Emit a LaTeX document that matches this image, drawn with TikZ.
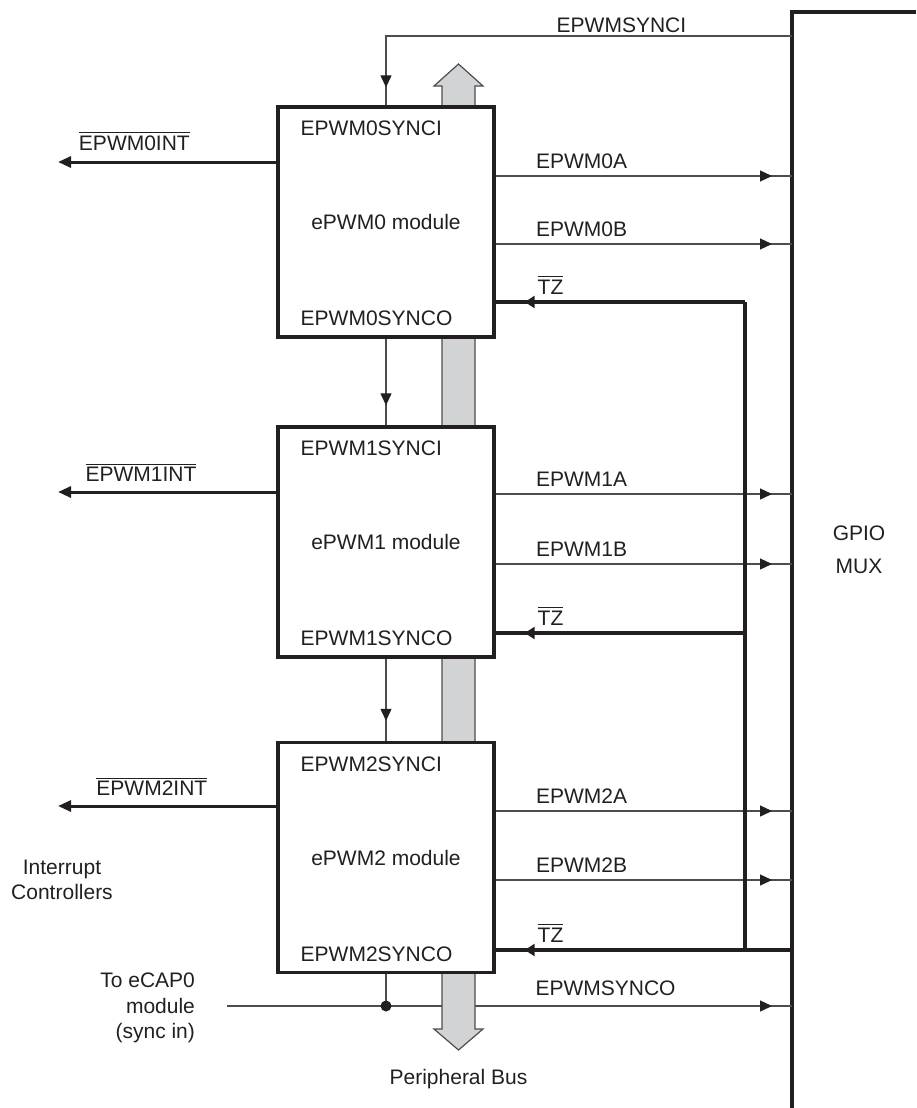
\documentclass[tikz,border=0pt]{standalone}
\usepackage{fontspec}
\setmainfont{Liberation Sans}
\usetikzlibrary{arrows.meta,positioning,calc,decorations.markings}
\definecolor{cLine}{HTML}{231F20}
\definecolor{cThin}{HTML}{4D4D4D}
\definecolor{cBus}{HTML}{D1D3D4}
\newcommand{\ovl}[1]{$\overline{\mbox{#1}}$}
\tikzset{
  font=\fontsize{10.5}{12.6}\selectfont,
  every node/.style={text=cLine},
  modbox/.style={draw=cLine,line width=1.7pt,fill=white,
                 minimum width=108pt,minimum height=115pt,inner sep=0pt},
  port/.style={anchor=west,inner sep=0pt},
  sig/.style={color=cThin,line width=0.65pt},
  heavy/.style={color=cLine,line width=2pt},
  midtip/.style={postaction={decorate},decoration={markings,
                 mark=at position #1 with {\arrow[color=cLine]{Triangle[length=6pt,width=5.5pt]}}}},
  tztip/.style={postaction={decorate},decoration={markings,
                 mark=at position #1 with {\arrow[color=cLine]{Triangle[length=5pt,width=6pt]}}}},
  intarr/.style={color=cLine,line width=1.5pt,-{Triangle[length=6.5pt,width=5.5pt]}},
  busarr/.style={draw=cThin,line width=0.6pt,fill=cBus},
  lbl/.style={inner sep=1pt},
  dot/.style={circle,fill=cLine,inner sep=0pt,minimum size=5.5pt},
}

\begin{document}
\begin{tikzpicture}[x=0.5pt,y=-0.5pt]
\useasboundingbox (0,0) rectangle (916,1108);

% ============ GPIO MUX (right) ============
\coordinate (gpio) at (792,12);
\coordinate (gpioR) at (916,12);
\coordinate (gpioB) at (792,1108);
\draw[heavy,line width=1.8pt] (gpioR) -- (gpio) -- (gpioB);
\node[align=center] (mux) at (859,550) {GPIO\\[4pt]MUX};

% ---------- sync out (under the bus) ----------
\coordinate (ecap) at (227,1006);
\draw[sig,midtip=-10pt] (ecap) -- node[lbl,above=4pt,pos=0.67]{EPWMSYNCO} (gpio |- ecap);
\node[align=right,anchor=east] (ecapl) at (202,1008) {To eCAP0\\module\\(sync in)};

% ============ PERIPHERAL BUS ============
\coordinate (busT) at (458.5,64);
\coordinate (busB) at (458.5,1050);
\draw[busarr] (busT) -- ++(24.5,22) -- ++(-8,0) -- ($(busB)+(16.5,-21)$) -- ++(8,0)
  -- (busB) -- ++(-24.5,-21) -- ++(8,0) -- ($(busT)+(-16.5,22)$) -- ++(-8,0) -- cycle;
\node[below=6pt of busB] (pbus) {Peripheral Bus};

% ============ ePWM MODULES ============
\node[modbox] (m0) at (386,222) {};
\node[port] (s0i) at ($(m0.north west)+(24,23)$) {EPWM0SYNCI};
\node (mod0) at (m0) {ePWM0 module};
\node[port] (s0o) at ($(m0.south west)+(24,-20)$) {EPWM0SYNCO};

\node[modbox] (m1) at (386,542) {};
\node[port] (s1i) at ($(m1.north west)+(24,23)$) {EPWM1SYNCI};
\node (mod1) at (m1) {ePWM1 module};
\node[port] (s1o) at ($(m1.south west)+(24,-20)$) {EPWM1SYNCO};

\node[modbox] (m2) at (386,857.5) {};
\node[port] (s2i) at ($(m2.north west)+(24,23)$) {EPWM2SYNCI};
\node (mod2) at (m2) {ePWM2 module};
\node[port] (s2o) at ($(m2.south west)+(24,-20)$) {EPWM2SYNCO};

% ---------- sync chain ----------
\draw[sig,midtip=-9pt] (gpio |- 0,36) -- node[lbl,above=0.5pt,pos=0.42]{EPWMSYNCI} (m0.north |- 0,36) -- (m0.north);
\draw[sig,midtip=-10pt] (m0.south) -- (m1.north);
\draw[sig,midtip=-10pt] (m1.south) -- (m2.north);
\draw[sig] (m2.south) -- (m2.south |- ecap) node[dot] (jn) {};

% ---------- interrupts ----------
\coordinate (int0) at (58,162);
\coordinate (int1) at (58,492);
\coordinate (int2) at (58,806);
\draw[intarr] (m0.west |- int0) -- node[lbl,above=4pt,pos=0.65]{\ovl{EPWM0INT}} (int0);
\draw[intarr] (m1.west |- int1) -- node[lbl,above=3.5pt,pos=0.62]{\ovl{EPWM1INT}} (int1);
\draw[intarr] (m2.west |- int2) -- node[lbl,above=3.5pt,pos=0.57]{\ovl{EPWM2INT}} (int2);
\node[align=center] (irq) at (62,880) {Interrupt\\Controllers};

% ---------- PWM outputs ----------
\draw[sig,midtip=-10pt] (m0.east |- 0,176) -- node[lbl,above=2.5pt,pos=0.29]{EPWM0A} (gpio |- 0,176);
\draw[sig,midtip=-10pt] (m0.east |- 0,244) -- node[lbl,above=2.5pt,pos=0.29]{EPWM0B} (gpio |- 0,244);
\draw[sig,midtip=-10pt] (m1.east |- 0,494) -- node[lbl,above=2.5pt,pos=0.29]{EPWM1A} (gpio |- 0,494);
\draw[sig,midtip=-10pt] (m1.east |- 0,564) -- node[lbl,above=2.5pt,pos=0.29]{EPWM1B} (gpio |- 0,564);
\draw[sig,midtip=-10pt] (m2.east |- 0,811) -- node[lbl,above=2.5pt,pos=0.29]{EPWM2A} (gpio |- 0,811);
\draw[sig,midtip=-10pt] (m2.east |- 0,880) -- node[lbl,above=2.5pt,pos=0.29]{EPWM2B} (gpio |- 0,880);

% ---------- trip zone (TZ) bus ----------
\coordinate (tz0) at (745,302);
\coordinate (tz1) at (745,633);
\coordinate (tz2) at (745,950);
\draw[heavy] (tz0) -- (tz2) -- (gpio |- tz2);
\draw[heavy,tztip=-14.5pt] (tz0) -- node[lbl,above=2pt,pos=0.78]{\ovl{TZ}} (m0.east |- tz0);
\draw[heavy,tztip=-14.5pt] (tz1) -- node[lbl,above=2pt,pos=0.78]{\ovl{TZ}} (m1.east |- tz1);
\draw[heavy,tztip=-14.5pt] (tz2) -- node[lbl,above=2pt,pos=0.78]{\ovl{TZ}} (m2.east |- tz2);

\end{tikzpicture}
\end{document}
